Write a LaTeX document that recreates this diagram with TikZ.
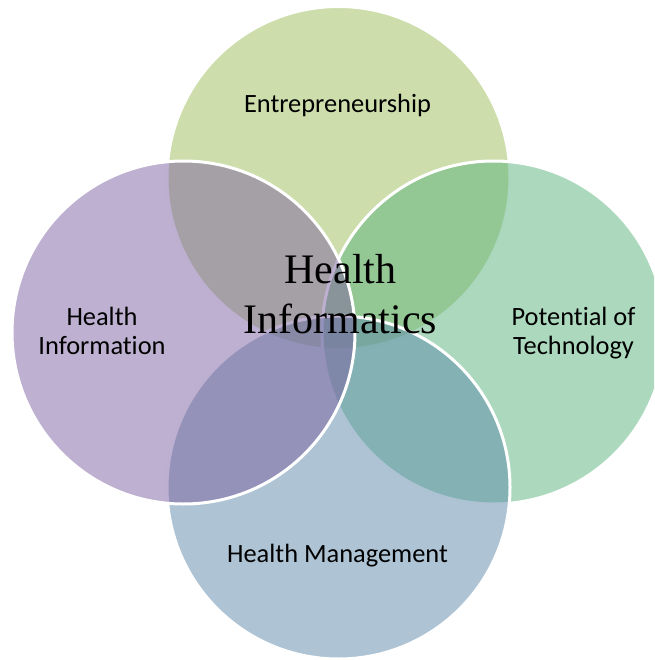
\documentclass[tikz,border=0pt]{standalone}
\usepackage{fontspec}
\setmainfont{Carlito}[Ligatures=NoCommon]
\newfontfamily\hiserif{Liberation Serif}
\definecolor{topc}{RGB}{155,187,89}
\definecolor{rightc}{RGB}{89,179,125}
\definecolor{bottomc}{RGB}{93,137,171}
\definecolor{leftc}{RGB}{125,97,161}
\begin{document}
\begin{tikzpicture}[x=1pt,y=-1pt,
  petal/.style={fill opacity=0.5, draw=white, draw opacity=1, line width=3pt},
  lbl/.style={font=\fontsize{26.4}{29}\selectfont, align=center, text=black, inner sep=0pt},
  hub/.style={font=\hiserif\fontsize{42}{50}\selectfont, align=center, text=black, inner sep=0pt}]
\useasboundingbox (0,0) rectangle (654,660);
\clip (0,0) rectangle (654,660);
\path[petal, fill=topc] (338.5,178) circle[radius=171.5pt];
\path[petal, fill=rightc] (493.5,332.5) circle[radius=171.5pt];
\path[petal, fill=bottomc] (338.5,487.5) circle[radius=171.5pt];
\path[petal, fill=leftc] (183.5,332.5) circle[radius=171.5pt];
\node[lbl, anchor=base] (ent) at (337.5,113) {Entrepreneurship};
\node[lbl, anchor=base] (hinfo) at (102,354) {Health\\Information};
\node[lbl, anchor=base] (pot) at (573.5,354) {Potential of\\Technology};
\node[lbl, anchor=base] (hman) at (337.5,562) {Health Management};
\node[hub, anchor=base] (hi) at (340.5,333) {Health\\Informatics};
\end{tikzpicture}
\end{document}
